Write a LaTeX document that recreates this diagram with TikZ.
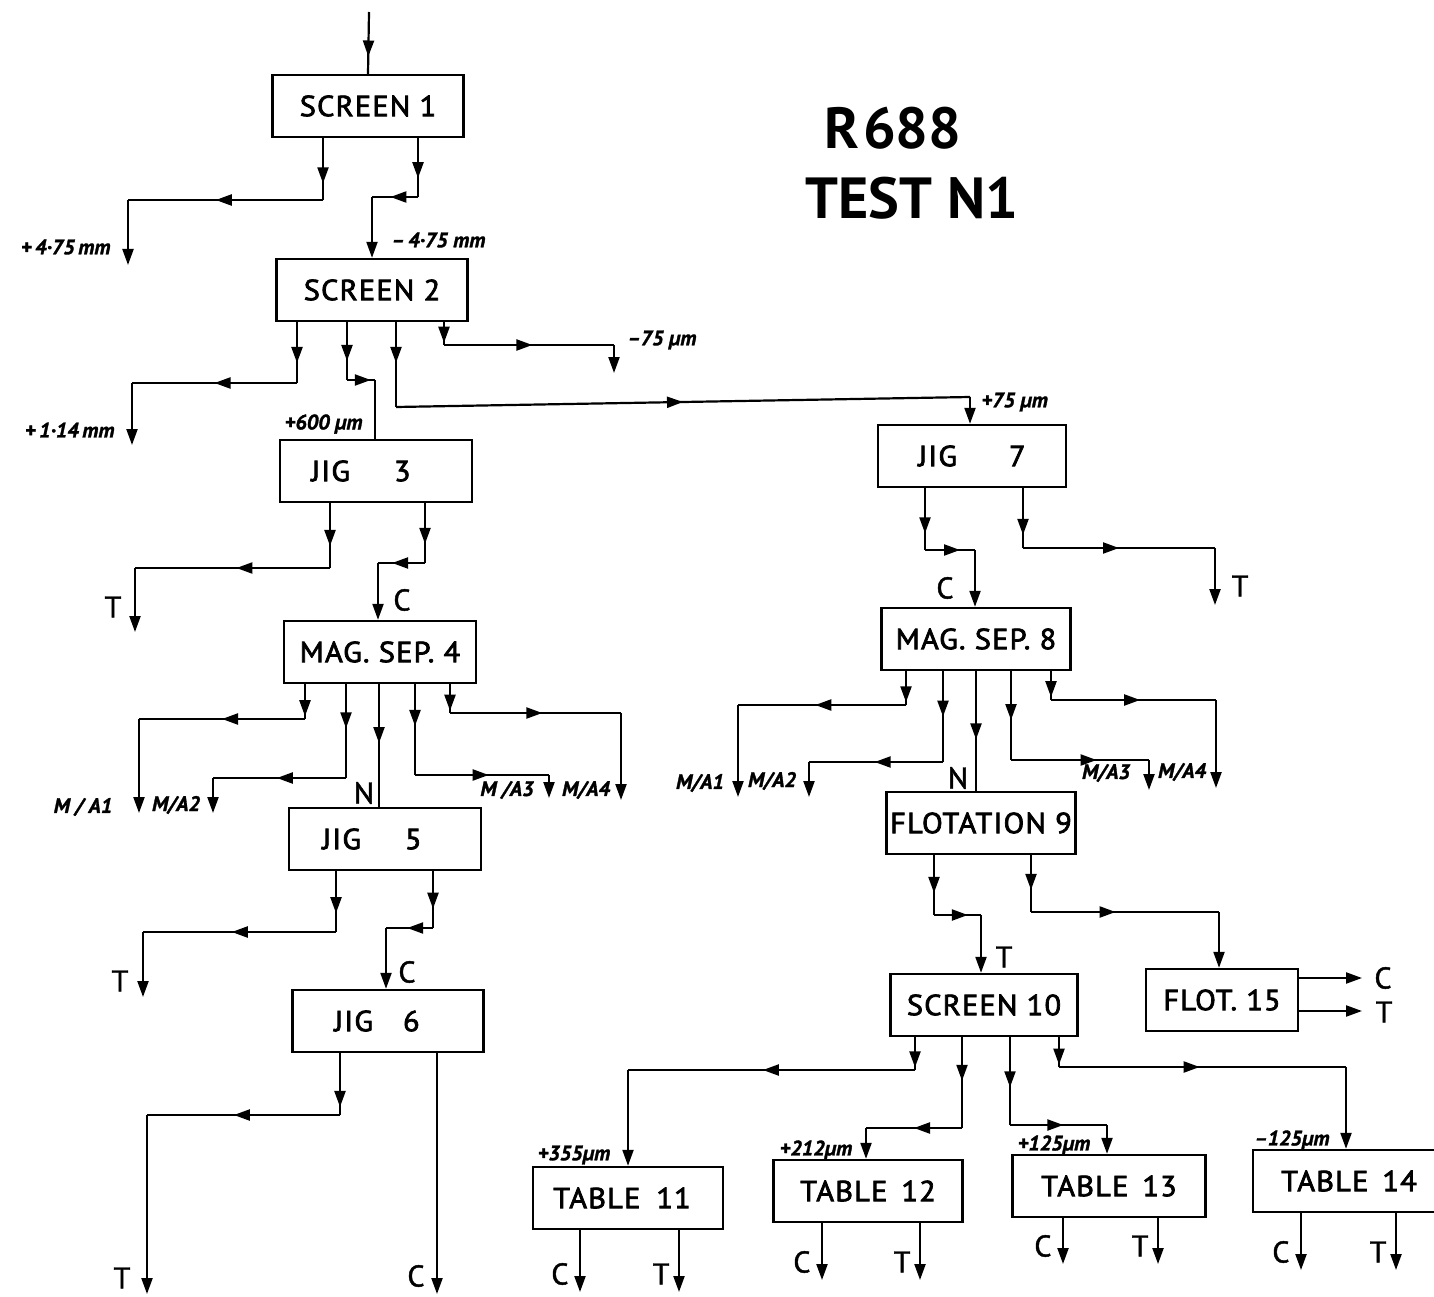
\documentclass[tikz,border=0pt]{standalone}
\usepackage{fontspec}
\setmainfont{PT Sans}
\newfontfamily\unitfont{PT Sans}[FakeStretch=1.05, FakeBold=2.5, LetterSpace=4]
\newfontfamily\labfont{PT Sans}[FakeBold=1.5]
\usetikzlibrary{arrows.meta, decorations.markings}

\tikzset{
  stage/.style={draw, line width=2.4pt, inner sep=0pt, minimum height=62pt,
    font=\fontsize{29}{34}\unitfont},
  sizelab/.style={font=\fontsize{21}{24}\labfont\bfseries\itshape},
  streamlab/.style={font=\fontsize{30}{34}\labfont},
  pipe/.style={line width=2.2pt},
  flow/.style={pipe, postaction={decorate}, decoration={markings,
    mark=at position #1 with {\arrow{Triangle[length=16pt,width=11pt]}}}},
  flow/.default=0.5,
  feed/.style={pipe, -{Triangle[length=16pt,width=11pt]}},
}

\begin{document}
\begin{tikzpicture}[x=1pt, y=-1pt]
    \useasboundingbox (0,0) rectangle (1434,1297);

    % title
    \node[font=\fontsize{58}{64}\selectfont\bfseries] (title1) at (893,128) {R\kern4pt688};
    \node[font=\fontsize{58}{64}\selectfont\bfseries] (title2) at (912,198) {TEST N1};

    % units
    \node[stage, minimum width=191pt] (s1) at (368,106) {SCREEN 1};
    \node[stage, minimum width=191pt] (s2) at (372,290) {SCREEN 2};
    \node[stage, minimum width=192pt] (j3) at (376,471) {JIG\kern44pt3\kern30pt};
    \node[stage, minimum width=192pt] (m4) at (380,652) {MAG. SEP. 4};
    \node[stage, minimum width=192pt] (j5) at (385,839) {JIG\kern44pt5\kern26pt};
    \node[stage, minimum width=191pt] (j6) at (388,1021) {JIG\kern30pt6\kern22pt};
    \node[stage, minimum width=188pt] (j7) at (972,456) {JIG\kern52pt7};
    \node[stage, minimum width=189pt] (m8) at (976,639) {MAG. SEP. 8};
    \node[stage, minimum width=189pt] (f9) at (981,823) {FLOTATION 9};
    \node[stage, minimum width=187pt] (s10) at (984,1005) {SCREEN 10};
    \node[stage, minimum width=152pt] (f15) at (1222,1000) {FLOT. 15};
    \node[stage, minimum width=190pt] (t11) at (628,1198) {TABLE\kern16pt11\kern12pt};
    \node[stage, minimum width=189pt] (t12) at (868,1191) {TABLE\kern14pt12};
    \node[stage, minimum width=193pt] (t13) at (1109,1186) {TABLE\kern14pt13};
    \node[stage, minimum width=192pt] (t14) at (1349,1181) {TABLE\kern14pt14};

    % feed
    \coordinate (in) at (369,12);
    \draw[flow=0.72] (in) -- (s1.north);

    % screen 1
    \coordinate (p475) at (128,265);
    \draw[flow=0.73] (s1.south -| 323,0) -- (323,200);
    \draw[flow=0.55] (323,200) -- (128,200);
    \draw[feed] (128,200) -- (p475);
    \node[sizelab, anchor=east] (l475) at (114,247) {+\,4·75\,mm};
    \draw[flow=0.68] (s1.south -| 418,0) -- (418,197);
    \draw[flow=0.6] (418,197) -- (372,197);
    \draw[feed] (372,197) -- (s2.north -| 372,0);
    \node[sizelab, anchor=west] (m475) at (388,240) {–\,4·75 mm};

    % screen 2
    \coordinate (p114) at (132,445);
    \draw[flow=0.67] (s2.south -| 297,0) -- (297,383);
    \draw[flow=0.5] (297,383) -- (132,383);
    \draw[feed] (132,383) -- (p114);
    \node[sizelab, anchor=east] (l114) at (118,430) {+\,1·14\,mm};
    \draw[flow=0.67] (s2.south -| 347,0) -- (347,380);
    \draw[flow=0.85] (347,380) -- (375,380);
    \draw[pipe] (375,380) -- (j3.north -| 375,0);
    \node[sizelab, anchor=east] (l600) at (366,424) {+600 µm};
    \draw[flow=0.48] (s2.south -| 396,0) -- (396,407);
    \draw[flow=0.5] (396,407) -- (970,397);
    \draw[feed] (970,397) -- (j7.north -| 970,0);
    \node[sizelab, anchor=west] (l75) at (978,402) {+75 µm};
    \coordinate (m75p) at (614,373);
    \draw[flow=0.9] (s2.south -| 444,0) -- (444,345);
    \draw[flow=0.52] (444,345) -- (614,345);
    \draw[feed] (614,345) -- (m75p);
    \node[sizelab, anchor=west] (m75) at (624,340) {–75 µm};

    % jig 3
    \coordinate (j3t) at (135,632);
    \draw[flow=0.66] (j3.south -| 330,0) -- (330,568);
    \draw[flow=0.48] (330,568) -- (135,568);
    \draw[feed] (135,568) -- (j3t);
    \node[streamlab] (j3tl) at (113,607) {T};
    \draw[flow=0.68] (j3.south -| 425,0) -- (425,563);
    \draw[flow=0.7] (425,563) -- (378,563);
    \draw[feed] (378,563) -- (m4.north -| 378,0);
    \node[streamlab] (j3cl) at (402,600) {C};

    % mag. sep. 4
    \coordinate (m4a1) at (139,813);
    \coordinate (m4a2) at (213,813);
    \coordinate (m4a3) at (549,798);
    \coordinate (m4a4) at (621,800);
    \draw[flow=0.92] (m4.south -| 305,0) -- (305,719);
    \draw[flow=0.5] (305,719) -- (139,719);
    \draw[feed] (139,719) -- (m4a1);
    \draw[flow=0.47] (m4.south -| 346,0) -- (346,778);
    \draw[flow=0.52] (346,778) -- (213,778);
    \draw[feed] (213,778) -- (m4a2);
    \draw[flow=0.48] (m4.south -| 379,0) -- (j5.north -| 379,0);
    \draw[flow=0.46] (m4.south -| 415,0) -- (415,775);
    \draw[flow=0.55] (415,775) -- (549,775);
    \draw[feed] (549,775) -- (m4a3);
    \draw[flow=0.92] (m4.south -| 450,0) -- (450,713);
    \draw[flow=0.54] (450,713) -- (621,713);
    \draw[feed] (621,713) -- (m4a4);
    \node[sizelab] (m4l1) at (83,807) {M / A1};
    \node[sizelab] (m4l2) at (176,805) {M/A2};
    \node[sizelab] (m4l3) at (507,790) {M /A3};
    \node[sizelab] (m4l4) at (586,790) {M/A4};
    \node[streamlab] (m4nl) at (364,793) {N};

    % jig 5
    \coordinate (j5t) at (143,997);
    \draw[flow=0.69] (j5.south -| 336,0) -- (336,932);
    \draw[flow=0.54] (336,932) -- (143,932);
    \draw[feed] (143,932) -- (j5t);
    \node[streamlab] (j5tl) at (120,981) {T};
    \draw[flow=0.66] (j5.south -| 433,0) -- (433,928);
    \draw[flow=0.55] (433,928) -- (386,928);
    \draw[feed] (386,928) -- (j6.north -| 386,0);
    \node[streamlab] (j5cl) at (407,972) {C};

    % jig 6
    \coordinate (j6t) at (147,1294);
    \coordinate (j6c) at (437,1294);
    \draw[flow=0.87] (j6.south -| 340,0) -- (340,1115);
    \draw[flow=0.55] (340,1115) -- (147,1115);
    \draw[feed] (147,1115) -- (j6t);
    \draw[feed] (j6.south -| 437,0) -- (j6c);
    \node[streamlab] (j6tl) at (122,1278) {T};
    \node[streamlab] (j6cl) at (416,1276) {C};

    % jig 7
    \coordinate (j7t) at (1215,605);
    \draw[flow=0.73] (j7.south -| 925,0) -- (925,550);
    \draw[flow=0.7] (925,550) -- (975,550);
    \draw[feed] (975,550) -- (m8.north -| 975,0);
    \node[streamlab] (j7cl) at (945,588) {C};
    \draw[flow=0.78] (j7.south -| 1023,0) -- (1023,548);
    \draw[flow=0.5] (1023,548) -- (1215,548);
    \draw[feed] (1215,548) -- (j7t);
    \node[streamlab] (j7tl) at (1240,586) {T};

    % mag. sep. 8
    \coordinate (m8a1) at (738,797);
    \coordinate (m8a2) at (809,797);
    \coordinate (m8a3) at (1149,790);
    \coordinate (m8a4) at (1216,788);
    \draw[flow=0.92] (m8.south -| 906,0) -- (906,705);
    \draw[flow=0.54] (906,705) -- (738,705);
    \draw[feed] (738,705) -- (m8a1);
    \draw[flow=0.5] (m8.south -| 943,0) -- (943,762);
    \draw[flow=0.51] (943,762) -- (809,762);
    \draw[feed] (809,762) -- (m8a2);
    \draw[flow=0.57] (m8.south -| 976,0) -- (f9.north -| 976,0);
    \draw[flow=0.55] (m8.south -| 1011,0) -- (1011,760);
    \draw[flow=0.62] (1011,760) -- (1149,760);
    \draw[feed] (1149,760) -- (m8a3);
    \draw[flow=0.9] (m8.south -| 1051,0) -- (1051,700);
    \draw[flow=0.54] (1051,700) -- (1216,700);
    \draw[feed] (1216,700) -- (m8a4);
    \node[sizelab] (m8l1) at (700,783) {M/A1};
    \node[sizelab] (m8l2) at (772,781) {M/A2};
    \node[sizelab] (m8l3) at (1106,773) {M/A3};
    \node[sizelab] (m8l4) at (1182,772) {M/A4};
    \node[streamlab] (m8nl) at (958,778) {N};

    % flotation 9
    \draw[flow=0.63] (f9.south -| 934,0) -- (934,915);
    \draw[flow=0.72] (934,915) -- (981,915);
    \draw[feed] (981,915) -- (s10.north -| 981,0);
    \node[streamlab] (f9tl) at (1004,957) {T};
    \draw[flow=0.61] (f9.south -| 1031,0) -- (1031,912);
    \draw[flow=0.45] (1031,912) -- (1219,912);
    \draw[feed] (1219,912) -- (f15.north -| 1219,0);

    % flot. 15
    \coordinate (f15c) at (1362,978);
    \coordinate (f15t) at (1362,1011);
    \draw[feed] (f15.east |- 0,978) -- (f15c);
    \draw[feed] (f15.east |- 0,1011) -- (f15t);
    \node[streamlab] (f15cl) at (1383,978) {C};
    \node[streamlab] (f15tl) at (1384,1012) {T};

    % screen 10
    \draw[flow=0.92] (s10.south -| 915,0) -- (915,1070);
    \draw[flow=0.53] (915,1070) -- (628,1070);
    \draw[feed] (628,1070) -- (t11.north -| 628,0);
    \node[sizelab] (l355) at (574,1155) {+355µm};
    \draw[flow=0.48] (s10.south -| 962,0) -- (962,1128);
    \draw[flow=0.5] (962,1128) -- (866,1128);
    \draw[feed] (866,1128) -- (t12.north -| 866,0);
    \node[sizelab] (l212) at (816,1150) {+212µm};
    \draw[flow=0.57] (s10.south -| 1010,0) -- (1010,1125);
    \draw[flow=0.55] (1010,1125) -- (1107,1125);
    \draw[feed] (1107,1125) -- (t13.north -| 1107,0);
    \node[sizelab] (l125) at (1054,1145) {+125µm};
    \draw[flow=0.92] (s10.south -| 1059,0) -- (1059,1067);
    \draw[flow=0.49] (1059,1067) -- (1346,1067);
    \draw[feed] (1346,1067) -- (t14.north -| 1346,0);
    \node[sizelab] (m125) at (1292,1140) {–125µm};

    % tables
    \foreach \t/\xc/\xt/\yb in {t11/580/679/1292, t12/822/920/1280,
                                t13/1063/1158/1264, t14/1301/1396/1270} {
        \coordinate (\t c) at (\xc,\yb);
        \coordinate (\t t) at (\xt,\yb);
        \draw[feed] (\t.south -| \xc,0) -- (\t c);
        \draw[feed] (\t.south -| \xt,0) -- (\t t);
        \node[streamlab, anchor=east] (\t cl) at (\xc-8,\yb-18) {C};
        \node[streamlab, anchor=east] (\t tl) at (\xt-6,\yb-18) {T};
    }
\end{tikzpicture}
\end{document}
